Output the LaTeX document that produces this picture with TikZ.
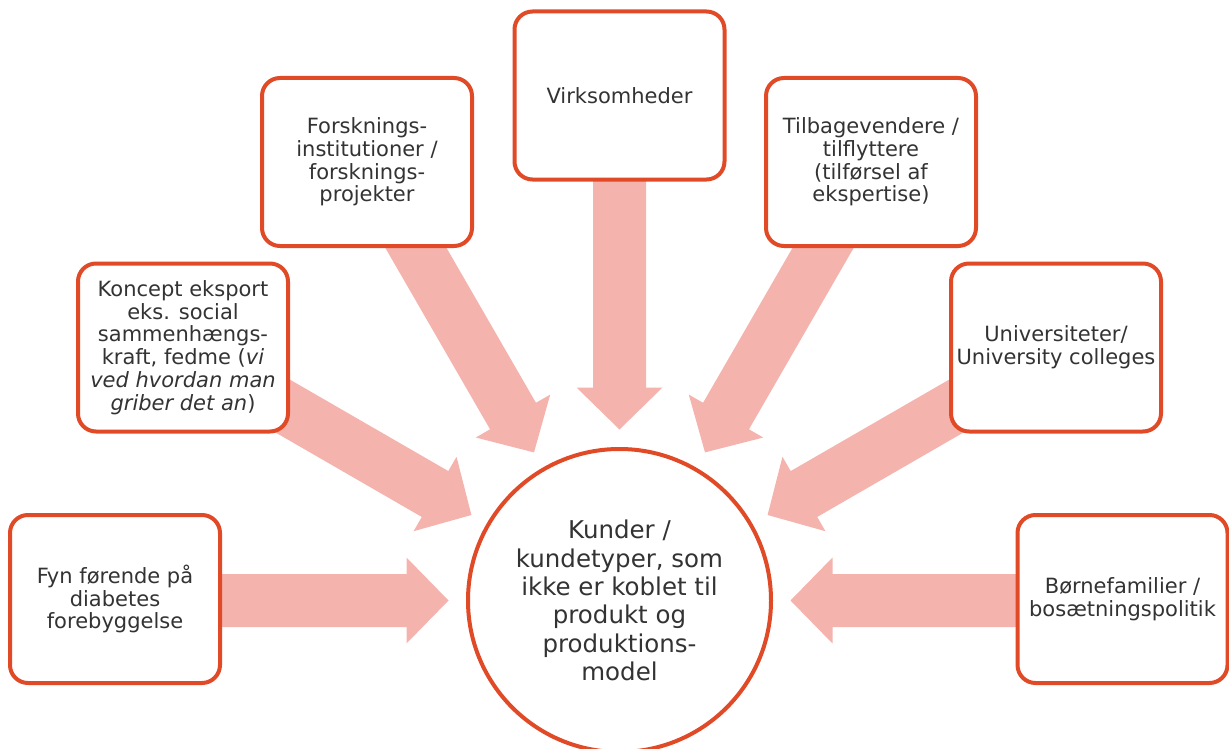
\documentclass[tikz,border=0pt]{standalone}
\usepackage{fontspec}
\setmainfont{DejaVu Sans}
\usetikzlibrary{backgrounds,calc}
\definecolor{edge}{HTML}{E04A26}
\definecolor{flow}{HTML}{F5B3AE}
\definecolor{ink}{HTML}{333333}
\begin{document}
\begin{tikzpicture}[x=1pt,y=-1pt,
  box/.style={draw=edge, line width=4pt, rounded corners=18pt, fill=white,
    minimum width=210pt, minimum height=168pt, align=center, text=ink,
    font=\fontsize{21}{22.7}\selectfont, inner sep=2pt},
  hub/.style={circle, draw=edge, line width=4pt, fill=white, minimum size=303pt,
    align=center, text=ink, font=\fontsize{24.5}{28.3}\selectfont},
  flowarrow/.style={fill=flow}]
\useasboundingbox (0,0) rectangle (1229,749);
\coordinate (c) at (619.5,600.5);
\node[hub] (hub) at (c) {Kunder /\\kundetyper, som\\ikke er koblet til\\produkt og\\produktions-\\model};
\node[box] (fyn) at (115,599) {Fyn førende på\\diabetes\\forebyggelse};
\node[box] (koncept) at (183,347.5) {Koncept eksport\\eks. social\\sammenhængs-\\kraft, fedme (\textit{vi}\\\textit{ved hvordan man}\\\textit{griber det an})};
\node[box] (forsk) at (367,162) {Forsknings-\\institutioner /\\forsknings-\\projekter};
\node[box] (virk) at (619.5,95.5) {Virksomheder};
\node[box] (tilb) at (871,162) {Tilbagevendere /\\tilflyttere\\(tilførsel af\\ekspertise)};
\node[box] (univ) at (1056,347.5) {Universiteter/\\University colleges};
\node[box] (born) at (1122.5,599) {Børnefamilier /\\bosætningspolitik};
\begin{scope}[on background layer]
\foreach \a in {180,150,120,90,60,30,0}
  \fill[flowarrow, shift={(c)}, rotate=\a]
    (171,0) -- (213,43) -- (213,26.5) -- (505,26.5) -- (505,-26.5)
    -- (213,-26.5) -- (213,-43) -- cycle;
\end{scope}
\end{tikzpicture}
\end{document}
